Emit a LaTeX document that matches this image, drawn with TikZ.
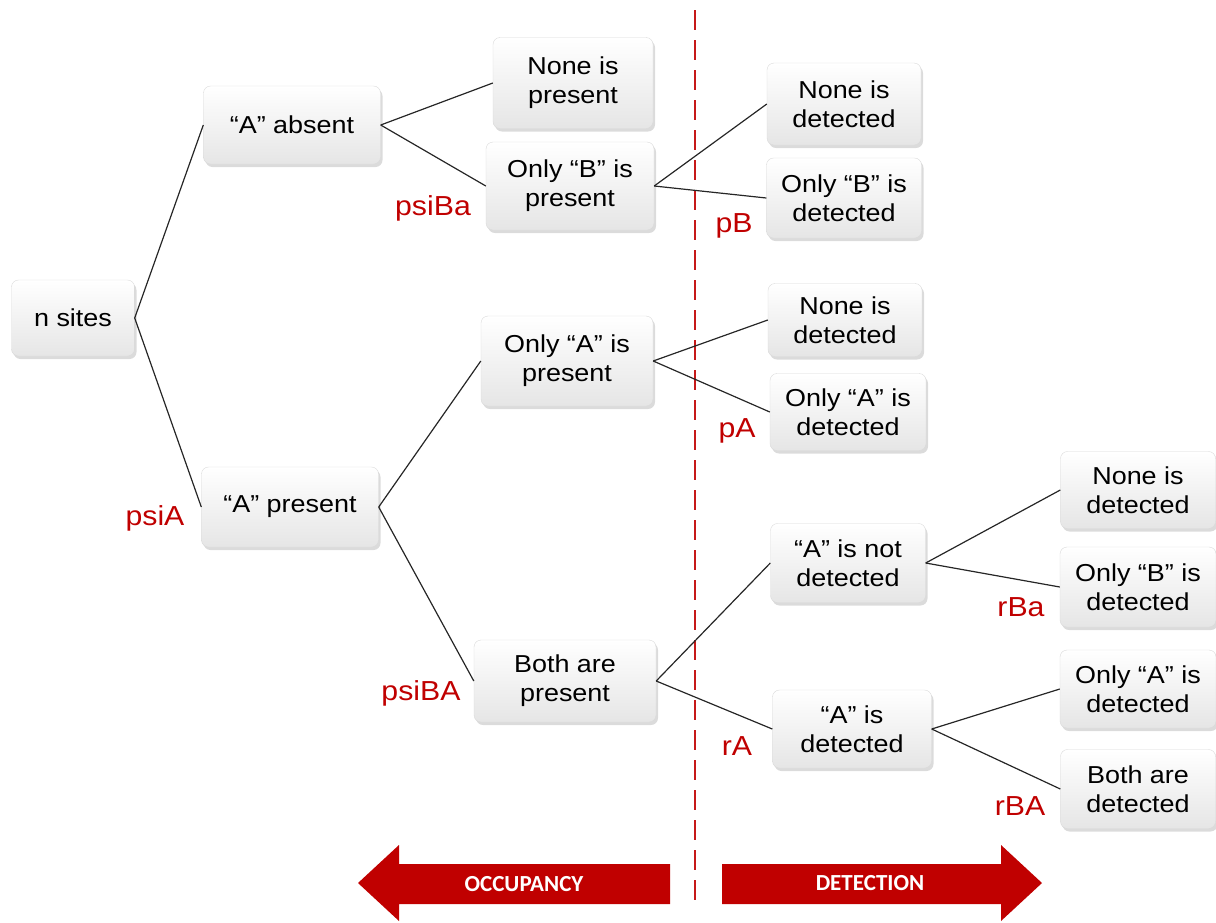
\documentclass[tikz,border=0pt]{standalone}
\usepackage{fontspec}
\setmainfont{Liberation Sans}[FakeStretch=1.1]
\newfontfamily\arrowfont{Carlito}
\usetikzlibrary{shadows,shapes.arrows}
\definecolor{lblred}{HTML}{C00000}
\definecolor{arrred}{HTML}{C00000}
\tikzset{
  box/.style={rectangle, rounded corners=7pt, draw=gray!30, line width=0.4pt,
    top color=white, bottom color=gray!20, align=center,
    font=\fontsize{24.5}{29}\selectfont, inner sep=0pt,
    drop shadow={shadow xshift=2pt, shadow yshift=-3pt, opacity=0.35, fill=gray!80}},
  lbl/.style={text=lblred, font=\fontsize{27.5}{30}\selectfont, inner sep=0pt},
  conn/.style={draw=black!85, line width=1.2pt},
  arrtxt/.style={text=white, font=\arrowfont\bfseries\fontsize{23}{25}\selectfont, inner sep=0pt}
}
\begin{document}
\begin{tikzpicture}[x=1pt,y=-1pt]
\useasboundingbox (0,0) rectangle (1216,922);
% dashed separator
\coordinate (dtop) at (695,10);
\coordinate (dbot) at (695,906);
\draw[lblred!90!white, line width=2.2pt, dash pattern=on 20pt off 10pt] (dtop) -- (dbot);
% boxes
\node[box, minimum width=123pt, minimum height=76pt] (nsites) at (73,318) {n sites};
\node[box, minimum width=177pt, minimum height=78pt] (absent) at (292,125) {“A” absent};
\node[box, minimum width=177pt, minimum height=80pt] (present) at (290,507) {“A” present};
\node[box, minimum width=160pt, minimum height=91pt] (nonep) at (573,83) {None is\\present};
\node[box, minimum width=168pt, minimum height=88pt] (onlyBp) at (570,186) {Only “B” is\\present};
\node[box, minimum width=172pt, minimum height=90pt] (onlyAp) at (567,361) {Only “A” is\\present};
\node[box, minimum width=182pt, minimum height=82pt] (bothp) at (565,681) {Both are\\present};
\node[box, minimum width=154pt, minimum height=82pt] (d1) at (844,104) {None is\\detected};
\node[box, minimum width=155pt, minimum height=80pt] (d2) at (844,198) {Only “B” is\\detected};
\node[box, minimum width=154pt, minimum height=73pt] (d3) at (845,320) {None is\\detected};
\node[box, minimum width=156pt, minimum height=77pt] (d4) at (848,412) {Only “A” is\\detected};
\node[box, minimum width=155pt, minimum height=79pt] (d5) at (848,563) {“A” is not\\detected};
\node[box, minimum width=159pt, minimum height=78pt] (d6) at (852,729) {“A” is\\detected};
\node[box, minimum width=155pt, minimum height=77pt] (d7) at (1138,490) {None is\\detected};
\node[box, minimum width=156pt, minimum height=80pt] (d8) at (1138,587) {Only “B” is\\detected};
\node[box, minimum width=156pt, minimum height=78pt] (d9) at (1138,689) {Only “A” is\\detected};
\node[box, minimum width=155pt, minimum height=79pt] (d10) at (1138,789) {Both are\\detected};
% connectors
\draw[conn] (nsites.east) -- (absent.west);
\draw[conn] (nsites.east) -- (present.west);
\draw[conn] (absent.east) -- (nonep.west);
\draw[conn] (absent.east) -- (onlyBp.west);
\draw[conn] (present.east) -- (onlyAp.west);
\draw[conn] (present.east) -- (bothp.west);
\draw[conn] (onlyBp.east) -- (d1.west);
\draw[conn] (onlyBp.east) -- (d2.west);
\draw[conn] (onlyAp.east) -- (d3.west);
\draw[conn] (onlyAp.east) -- (d4.west);
\draw[conn] (bothp.east) -- (d5.west);
\draw[conn] (bothp.east) -- (d6.west);
\draw[conn] (d5.east) -- (d7.west);
\draw[conn] (d5.east) -- (d8.west);
\draw[conn] (d6.east) -- (d9.west);
\draw[conn] (d6.east) -- (d10.west);
% labels
\node[lbl] (lpsiBa) at (433,208) {psiBa};
\node[lbl] (lpsiA) at (155,518) {psiA};
\node[lbl] (lpsiBA) at (421,693) {psiBA};
\node[lbl] (lpB) at (734,226) {pB};
\node[lbl] (lpA) at (737,431) {pA};
\node[lbl] (lrA) at (737,746) {rA};
\node[lbl] (lrBa) at (1021,607) {rBa};
\node[lbl] (lrBA) at (1020,806) {rBA};
% bottom arrows
\fill[arrred] (358,883) -- (399,845) -- (399,864) -- (670,864) -- (670,904) -- (399,904) -- (399,921) -- cycle;
\fill[arrred] (1042,883) -- (1001,845) -- (1001,864) -- (722,864) -- (722,904) -- (1001,904) -- (1001,921) -- cycle;
\node[arrtxt] (occ) at (524,884) {OCCUPANCY};
\node[arrtxt] (det) at (870,883) {DETECTION};
\end{tikzpicture}
\end{document}
